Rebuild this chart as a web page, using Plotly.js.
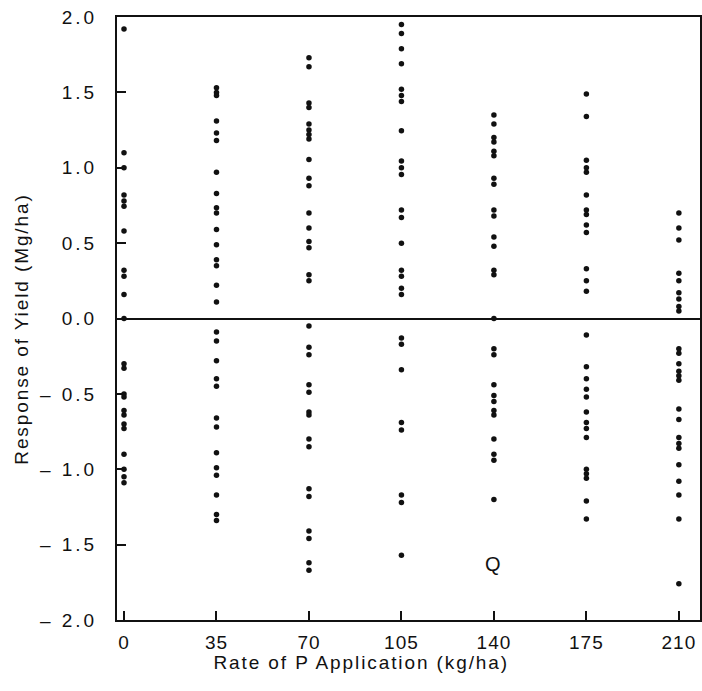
<!DOCTYPE html>
<html>
<head>
<meta charset="utf-8">
<script src="https://cdn.plot.ly/plotly-3.0.1.min.js"></script>
<style>
html,body{margin:0;padding:0;background:#fff;}
#chart{width:702px;height:691px;}
#chart .annotation-text{letter-spacing:1.9px;}
#chart .xtick text{letter-spacing:1px;}
#chart .ytick text{letter-spacing:3px;}
</style>
</head>
<body>
<div id="chart"></div>
<script>
// P application rates (kg/ha)
const rates = [0, 35, 70, 105, 140, 175, 210];
// Yield responses (Mg/ha) per rate
const resp0 = [1.92, 1.10, 1.0, 0.82, 0.78, 0.745, 0.58, 0.32, 0.28, 0.16, 0.0,
  -0.30, -0.33, -0.50, -0.52, -0.61, -0.64, -0.70, -0.73, -0.90, -1.0, -1.05, -1.09];
const resp35 = [1.53, 1.50, 1.48, 1.31, 1.23, 1.18, 0.97, 0.83, 0.735, 0.70, 0.59, 0.49, 0.39, 0.35, 0.22, 0.11,
  -0.09, -0.15, -0.28, -0.40, -0.45, -0.66, -0.72, -0.89, -0.99, -1.04, -1.17, -1.30, -1.34];
const resp70 = [1.73, 1.67, 1.43, 1.40, 1.29, 1.25, 1.22, 1.19, 1.055, 0.93, 0.88, 0.70, 0.60, 0.51, 0.47, 0.29, 0.25,
  -0.05, -0.19, -0.24, -0.44, -0.49, -0.62, -0.64, -0.80, -0.85, -1.13, -1.18, -1.41, -1.46, -1.62, -1.67];
const resp105 = [1.95, 1.89, 1.79, 1.69, 1.52, 1.48, 1.44, 1.245, 1.045, 1.0, 0.955, 0.72, 0.67, 0.50, 0.32, 0.28, 0.20, 0.16,
  -0.13, -0.17, -0.34, -0.69, -0.74, -1.17, -1.22, -1.57];
const resp140 = [1.35, 1.29, 1.20, 1.17, 1.11, 1.08, 0.93, 0.89, 0.72, 0.68, 0.54, 0.48, 0.32, 0.29, 0.0,
  -0.20, -0.24, -0.44, -0.51, -0.55, -0.61, -0.64, -0.80, -0.90, -0.94, -1.20];
const resp175 = [1.49, 1.34, 1.05, 1.0, 0.97, 0.82, 0.72, 0.69, 0.62, 0.57, 0.33, 0.25, 0.18,
  -0.11, -0.32, -0.40, -0.47, -0.52, -0.62, -0.69, -0.73, -0.79, -1.0, -1.03, -1.06, -1.21, -1.33];
const resp210 = [0.70, 0.60, 0.52, 0.30, 0.25, 0.17, 0.13, 0.08, 0.05,
  -0.20, -0.23, -0.30, -0.35, -0.38, -0.41, -0.60, -0.67, -0.79, -0.83, -0.86, -0.97, -1.08, -1.17, -1.33, -1.76];
const allResp = [resp0, resp35, resp70, resp105, resp140, resp175, resp210];

const yTickVals = [2.0, 1.5, 1.0, 0.5, 0.0, -0.5, -1.0, -1.5, -2.0];
const yTickText = ["2.0", "1.5", "1.0", "0.5", "0.0", "\u2013 0.5", "\u2013 1.0", "\u2013 1.5", "\u2013 2.0"];
const xTickText = ["0", "35", "70", "105", "140", "175", "210"];
const xTitle = "Rate of P Application (kg/ha)";
const yTitle = "Response of Yield (Mg/ha)";

const xs = [], ys = [];
rates.forEach((r, i) => { allResp[i].forEach(v => { xs.push(r); ys.push(v); }); });

const font = {family: "Liberation Sans, Arial, sans-serif", color: "#111", size: 18};

Plotly.newPlot("chart", [{
  x: xs, y: ys, type: "scatter", mode: "markers",
  marker: {color: "#111", size: 5.5},
  hoverinfo: "x+y"
}], {
  width: 702, height: 691,
  margin: {l: 117, r: 2, t: 17, b: 71},
  paper_bgcolor: "#fff", plot_bgcolor: "#fff",
  showlegend: false,
  font: font,
  xaxis: {
    range: [-2.65, 218], tickvals: rates, ticktext: xTickText,
    ticks: "inside", ticklen: 9, tickwidth: 2, tickcolor: "#111",
    showline: true, linecolor: "#111", linewidth: 2, mirror: true,
    showgrid: false, zeroline: false,
    tickfont: {size: 19}, ticklabelstandoff: 4
  },
  yaxis: {
    range: [-2.0, 2.0], tickvals: yTickVals, ticktext: yTickText,
    ticks: "inside", ticklen: 9, tickwidth: 2, tickcolor: "#111",
    showline: true, linecolor: "#111", linewidth: 2, mirror: true,
    showgrid: false, zeroline: true, zerolinecolor: "#111", zerolinewidth: 2,
    tickfont: {size: 19}, ticklabelstandoff: 14
  },
  annotations: [
    {x: 140, y: -1.63, xref: "x", yref: "y", text: "Q", showarrow: false,
     font: {size: 20, color: "#111"}},
    {x: 0.4185, y: -0.0697, xref: "paper", yref: "paper", text: xTitle, showarrow: false,
     xanchor: "center", yanchor: "middle", font: {size: 19, color: "#111"}},
    {x: -0.163, y: 0.4826, xref: "paper", yref: "paper", text: yTitle, showarrow: false,
     textangle: -90, xanchor: "center", yanchor: "middle", font: {size: 19, color: "#111"}}
  ]
}, {displayModeBar: false, staticPlot: true});
</script>
</body>
</html>
